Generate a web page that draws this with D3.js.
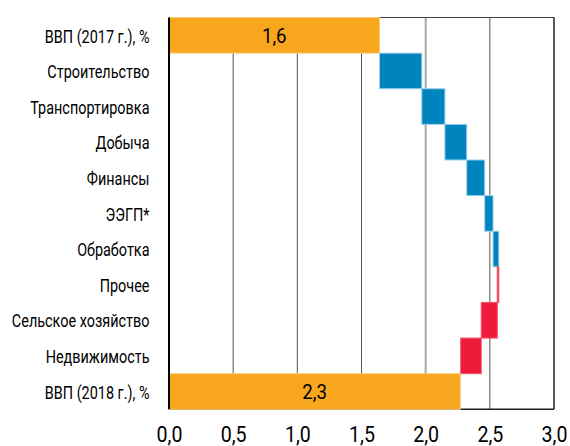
<!DOCTYPE html>
<html>
<head>
<meta charset="utf-8">
<script src="https://cdn.jsdelivr.net/npm/d3@7"></script>
<style>
  body { margin: 0; background: #fff; }
  text { font-family: Roboto, "Noto Sans", sans-serif; fill: #000; }
</style>
</head>
<body>
<svg id="chart" width="570" height="446"></svg>
<script>
// Row labels, top to bottom
const categories = [
  "ВВП (2017 г.), %",
  "Строительство",
  "Транспортировка",
  "Добыча",
  "Финансы",
  "ЭЭГП*",
  "Обработка",
  "Прочее",
  "Сельское хозяйство",
  "Недвижимость",
  "ВВП (2018 г.), %"
];
// GDP growth totals, first and last rows
const gdpTotals = [1.64, 2.27];
// Sector contributions, percentage points (rows 2..10)
const contributions = [0.33, 0.18, 0.17, 0.14, 0.065, 0.045, -0.012, -0.125, -0.16];
const xTicks = [0, 0.5, 1, 1.5, 2, 2.5, 3];

const COLORS = {
  total: "#F8A61D", totalStroke: "#FBCB7E",
  up: "#0084BD", upStroke: "#9CD1EE",
  down: "#EE1B3B", downStroke: "#F2506A"
};
const SQUEEZE_NUM = 0.89;  // narrow digits
const SQUEEZE_CAT = 0.76;  // narrow row labels

const svg = d3.select("#chart");
const plotLeft = 169, plotRight = 554, plotTop = 17.5, plotBottom = 409.3;

const x = d3.scaleLinear().domain([0, 3]).range([plotLeft, plotRight]);
const y = d3.scaleBand().domain(categories).range([plotTop, plotBottom]).padding(0);

// Build waterfall segments
const rows = [];
rows.push({ cat: categories[0], x0: 0, x1: gdpTotals[0], kind: "total", value: gdpTotals[0] });
let run = gdpTotals[0];
contributions.forEach((c, i) => {
  const start = run;
  run += c;
  rows.push({ cat: categories[i + 1], x0: Math.min(start, run), x1: Math.max(start, run), kind: c >= 0 ? "up" : "down", value: c });
});
rows.push({ cat: categories[10], x0: 0, x1: gdpTotals[1], kind: "total", value: gdpTotals[1] });

// Vertical gridlines
svg.append("g").selectAll("line")
  .data(xTicks.filter(t => t > 0 && t < 3))
  .join("line")
  .attr("x1", d => x(d)).attr("x2", d => x(d))
  .attr("y1", plotTop).attr("y2", plotBottom)
  .attr("stroke", d => d === 2 ? "#A8A8A8" : "#555")
  .attr("stroke-width", d => d === 2 ? 2 : 1);

// Frame
svg.append("line").attr("x1", plotLeft).attr("x2", plotRight).attr("y1", plotTop).attr("y2", plotTop)
  .attr("stroke", "#444").attr("stroke-width", 1);
svg.append("line").attr("x1", plotRight).attr("x2", plotRight).attr("y1", plotTop).attr("y2", plotBottom)
  .attr("stroke", "#222").attr("stroke-width", 1.5);
svg.append("line").attr("x1", plotLeft).attr("x2", plotRight).attr("y1", plotBottom).attr("y2", plotBottom)
  .attr("stroke", "#222").attr("stroke-width", 1.5);

// Bars
svg.append("g").selectAll("rect")
  .data(rows)
  .join("rect")
  .attr("x", d => x(d.x0))
  .attr("y", d => y(d.cat))
  .attr("width", d => Math.max(1, x(d.x1) - x(d.x0)))
  .attr("height", y.bandwidth())
  .attr("fill", d => COLORS[d.kind])
  .attr("stroke", d => COLORS[d.kind + "Stroke"])
  .attr("stroke-width", 1);

// Left axis line
svg.append("line").attr("x1", plotLeft).attr("x2", plotLeft).attr("y1", plotTop).attr("y2", plotBottom)
  .attr("stroke", "#000").attr("stroke-width", 2);

const comma = v => d3.format(".1f")(v).replace(".", ",");

// Value labels on total bars
svg.append("g").selectAll("text")
  .data(rows.filter(r => r.kind === "total"))
  .join("text")
  .attr("text-anchor", "middle")
  .attr("font-size", 21)
  .attr("transform", d => `translate(${(x(d.x0) + x(d.x1)) / 2},${y(d.cat) + y.bandwidth() / 2 + 7.5}) scale(${SQUEEZE_NUM},1)`)
  .text(d => comma(d.value));

// Category axis
const yAxis = svg.append("g")
  .attr("transform", `translate(${plotLeft},0)`)
  .call(d3.axisLeft(y).tickSize(0).tickPadding(0));
yAxis.select(".domain").remove();
yAxis.selectAll("text")
  .attr("x", null).attr("dy", null)
  .attr("font-size", 19)
  .attr("font-family", null)
  .attr("fill", "#000")
  .attr("transform", `translate(-19.5,7.2) scale(${SQUEEZE_CAT},1)`);

// Value axis labels
const xAxis = svg.append("g")
  .attr("transform", `translate(0,${plotBottom})`)
  .call(d3.axisBottom(x).tickValues(xTicks).tickSize(0).tickFormat(comma));
xAxis.select(".domain").remove();
xAxis.selectAll("text")
  .attr("y", null).attr("dy", null)
  .attr("font-size", 22)
  .attr("font-family", null)
  .attr("fill", "#000")
  .attr("transform", `translate(0,32.4) scale(${SQUEEZE_NUM},1)`);
</script>
</body>
</html>
